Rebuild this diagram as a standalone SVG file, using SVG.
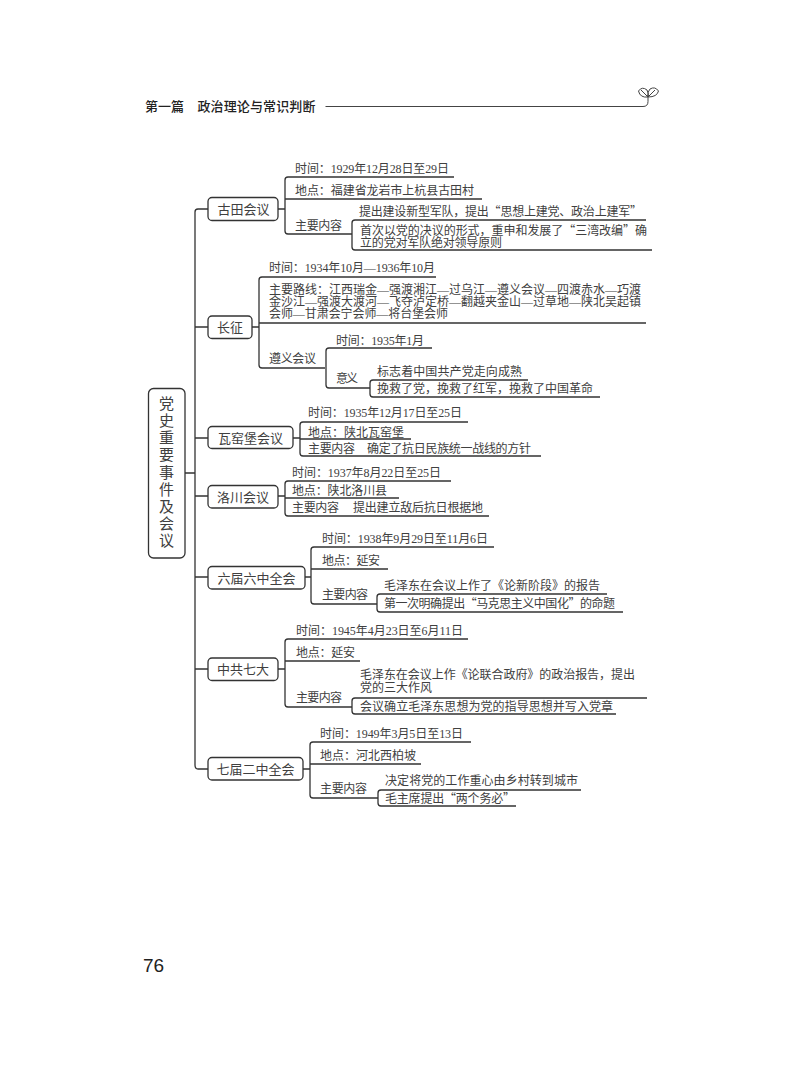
<svg xmlns="http://www.w3.org/2000/svg" width="800" height="1084" viewBox="0 0 800 1084" lang="zh-CN">
<style>
text{font-family:"Liberation Serif","Noto Sans CJK SC",serif;font-size:12px;fill:#404040}
.q{font-family:"Noto Sans CJK SC",sans-serif}
.n{font-family:"Noto Sans CJK SC",sans-serif;font-size:13px;text-anchor:middle}
.h{font-family:"Noto Sans CJK SC",sans-serif;font-size:13px;fill:#222;font-weight:500}
.box{fill:#fff;stroke:#333;stroke-width:1.3}
.c{fill:none;stroke:#333;stroke-width:1.3}
.h1{fill:none;stroke:#444;stroke-width:1}
</style>
<rect width="800" height="1084" fill="#fff"/>
<g id="header">
<text class="h" x="145" y="111" textLength="39">第一篇</text>
<text class="h" x="197.500" y="111" textLength="118">政治理论与常识判断</text>
<path class="h1" d="M325.500 106.500H643Q648 106.500 648 101.500V95"/>
<path class="h1" d="M648 97Q640 98 638.500 91Q642 86 647 90Q649 93 648 97ZM648 97Q657 97 658.500 91Q655 86 650 89Q647 92 648 97ZM641 90L648 97M655 90L648 97"/>
</g>
<g id="connectors">
<path class="c" d="M185 473H195M208 209H198Q195 209 195 212V765Q195 769 198 769H208M195 327H208M195 438H208M195 496H208M195 577H208M195 669H208"/>
<path class="c" d="M278 209H285M454 177H288Q285 177 285 180V231Q285 234 288 234H352M285 199H482M646 220H355Q352 220 352 223V247Q352 250 355 250H652"/>
<path class="c" d="M252 327H259M436 277H262Q259 277 259 280V365Q259 368 262 368H325M259 323H646M432 348H329Q326 348 326 351V385Q326 388 329 388H370M528 380H373Q370 380 370 383V394Q370 397 373 397H600"/>
<path class="c" d="M293 438H300M468 422H303Q300 422 300 425V453Q300 456 303 456H541M300 439H411"/>
<path class="c" d="M278 496H285M451 481H288Q285 481 285 484V513Q285 516 288 516H489M285 498H399"/>
<path class="c" d="M305 577H311M494 547H314Q311 547 311 550V601Q311 604 314 604H377M311 569H388M607 594H380Q377 594 377 597V609Q377 612 380 612H623"/>
<path class="c" d="M278 669H285M468 639H288Q285 639 285 642V704Q285 707 288 707H352M285 661H360M647 698H355Q352 698 352 701V711Q352 714 355 714H616"/>
<path class="c" d="M303 769H310M471 742H313Q310 742 310 745V795Q310 798 313 798H378M310 764H421M581 790H381Q378 790 378 793V803Q378 806 381 806H516"/>
</g>
<g id="root"><rect class="box" x="148.500" y="388.500" width="36.500" height="169.500" rx="5"/>
<text x="166.500" y="396" style="font-family:'Noto Sans CJK SC',sans-serif;font-size:15px;writing-mode:vertical-rl;text-orientation:upright;letter-spacing:2.100px">党史重要事件及会议</text></g>
<g id="n1"><rect class="box" x="208" y="197.500" width="70" height="23" rx="4"/><text class="n" x="243.500" y="213.500">古田会议</text>
<text x="295" y="173" textLength="154">时间：1929年12月28日至29日</text>
<text x="295" y="195" textLength="179">地点：福建省龙岩市上杭县古田村</text>
<text x="295" y="230" textLength="47">主要内容</text>
<text x="359" y="216" textLength="283">提出建设新型军队，提出<tspan class="q">“</tspan>思想上建党、政治上建军<tspan class="q">”</tspan></text>
<text x="360" y="235" textLength="287">首次以党的决议的形式，重申和发展了<tspan class="q">“</tspan>三湾改编<tspan class="q">”</tspan>确</text>
<text x="360" y="247" textLength="142">立的党对军队绝对领导原则</text></g>
<g id="n2"><rect class="box" x="208" y="316" width="44" height="22.500" rx="4"/><text class="n" x="230" y="332">长征</text>
<text x="269" y="272" textLength="166">时间：1934年10月—1936年10月</text>
<text x="269" y="293.500" textLength="372">主要路线：江西瑞金—强渡湘江—过乌江—遵义会议—四渡赤水—巧渡</text>
<text x="269" y="305.500" textLength="372">金沙江—强渡大渡河—飞夺泸定桥—翻越夹金山—过草地—陕北吴起镇</text>
<text x="269" y="317.500" textLength="179">会师—甘肃会宁会师—将台堡会师</text>
<text x="269" y="363" textLength="47">遵义会议</text>
<text x="336" y="345" textLength="88">时间：1935年1月</text>
<text x="336" y="383" textLength="22">意义</text>
<text x="377" y="376" textLength="145">标志着中国共产党走向成熟</text>
<text x="377" y="393" textLength="216">挽救了党，挽救了红军，挽救了中国革命</text></g>
<g id="n3"><rect class="box" x="208" y="426.500" width="85" height="22" rx="4"/><text class="n" x="250.500" y="442.500">瓦窑堡会议</text>
<text x="308" y="417" textLength="154">时间：1935年12月17日至25日</text>
<text x="308" y="437" textLength="96">地点：陕北瓦窑堡</text>
<text x="308" y="453" textLength="47">主要内容</text>
<text x="367" y="453" textLength="164">确定了抗日民族统一战线的方针</text></g>
<g id="n4"><rect class="box" x="208" y="485.500" width="70" height="22.500" rx="4"/><text class="n" x="243" y="501.500">洛川会议</text>
<text x="292" y="477" textLength="149">时间：1937年8月22日至25日</text>
<text x="292" y="495" textLength="95">地点：陕北洛川县</text>
<text x="292" y="512" textLength="47">主要内容</text>
<text x="353" y="512" textLength="130">提出建立敌后抗日根据地</text></g>
<g id="n5"><rect class="box" x="208" y="566.500" width="97" height="22.500" rx="4"/><text class="n" x="256.500" y="582.500">六届六中全会</text>
<text x="322" y="543" textLength="166">时间：1938年9月29日至11月6日</text>
<text x="322" y="565" textLength="58">地点：延安</text>
<text x="322" y="599" textLength="46">主要内容</text>
<text x="384" y="590" textLength="216">毛泽东在会议上作了《论新阶段》的报告</text>
<text x="384" y="608" textLength="231">第一次明确提出<tspan class="q">“</tspan>马克思主义中国化<tspan class="q">”</tspan>的命题</text></g>
<g id="n6"><rect class="box" x="208" y="658" width="70" height="22.500" rx="4"/><text class="n" x="243" y="674">中共七大</text>
<text x="296" y="635" textLength="167">时间：1945年4月23日至6月11日</text>
<text x="296" y="657" textLength="59">地点：延安</text>
<text x="296" y="702" textLength="46">主要内容</text>
<text x="360" y="679" textLength="275">毛泽东在会议上作《论联合政府》的政治报告，提出</text>
<text x="360" y="692" textLength="72">党的三大作风</text>
<text x="360" y="711" textLength="253">会议确立毛泽东思想为党的指导思想并写入党章</text></g>
<g id="n7"><rect class="box" x="208" y="757.500" width="95" height="22.500" rx="4"/><text class="n" x="255.500" y="773.500">七届二中全会</text>
<text x="320" y="738" textLength="143">时间：1949年3月5日至13日</text>
<text x="320" y="760" textLength="96">地点：河北西柏坡</text>
<text x="320" y="793" textLength="47">主要内容</text>
<text x="385" y="785" textLength="193">决定将党的工作重心由乡村转到城市</text>
<text x="385" y="803" textLength="130">毛主席提出<tspan class="q">“</tspan>两个务必<tspan class="q">”</tspan></text></g>
<text style="font-family:'Liberation Sans',sans-serif;font-size:19px;fill:#222" x="143" y="972">76</text>
</svg>
